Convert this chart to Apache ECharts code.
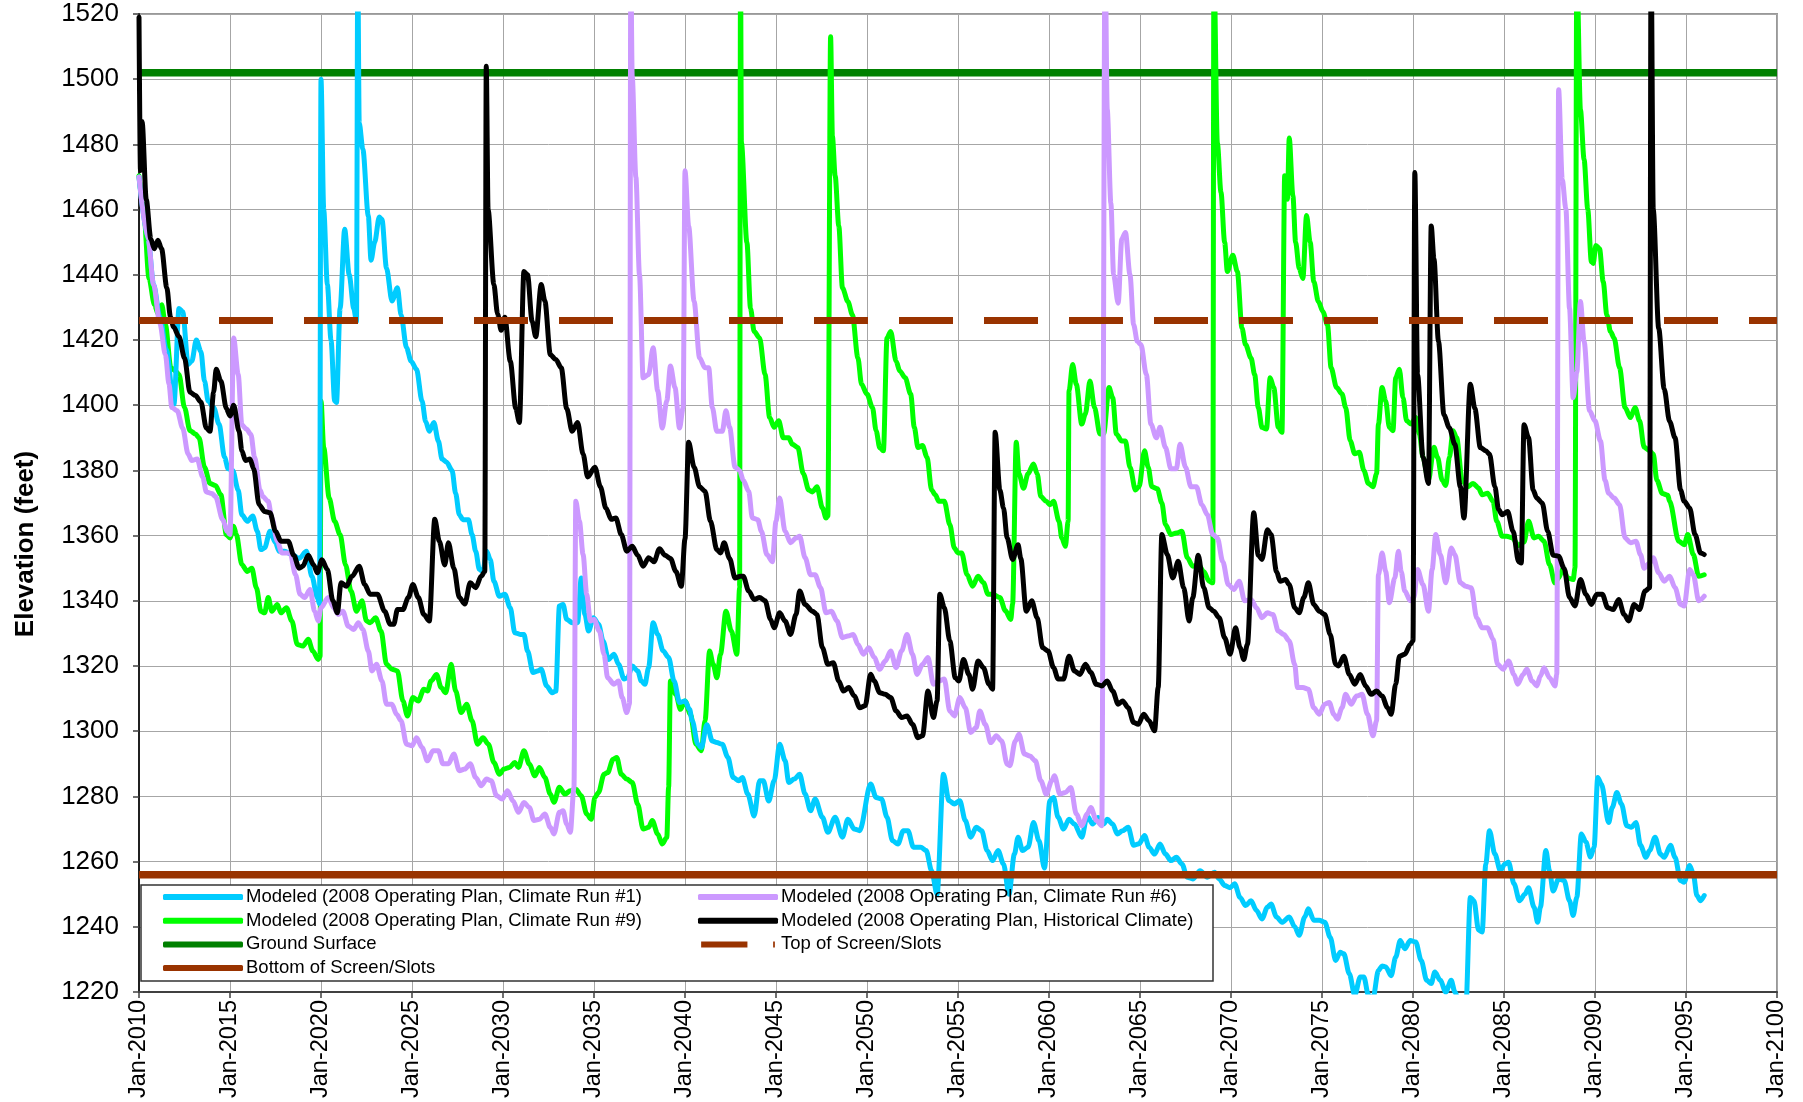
<!DOCTYPE html>
<html>
<head>
<meta charset="utf-8">
<title>Elevation</title>
<script src="https://cdn.jsdelivr.net/npm/echarts@6/dist/echarts.min.js"></script>
<style>
  html, body { margin: 0; padding: 0; background: #fff; }
  #chart { width: 1803px; height: 1102px; }
</style>
</head>
<body>
<div id="chart"></div>
<script>
// values, [year, elevation ft]
const runOne = [[2010.0,1470],[2010.5,1451],[2010.8,1437],[2011.15,1427],[2011.5,1417],[2011.92,1400.3],[2012.2,1429.7],[2012.4,1428.7],[2012.7,1412.5],[2012.9,1413.5],[2013.15,1420],[2013.4,1416.5],[2013.6,1407.4],[2013.8,1401.3],[2014.1,1399.3],[2014.4,1394.2],[2014.7,1384],[2014.9,1380.5],[2015.15,1380],[2015.45,1374],[2015.65,1366.4],[2015.95,1364.4],[2016.25,1366],[2016.5,1361.3],[2016.7,1355.7],[2016.9,1356.2],[2017.2,1361.3],[2017.5,1357.8],[2017.7,1355.2],[2018.0,1355.2],[2018.4,1354.2],[2018.8,1353],[2019.2,1355.2],[2019.5,1347.5],[2019.8,1341],[2019.92,1339],[2020.0,1500],[2020.15,1460],[2020.35,1437],[2020.55,1420],[2020.75,1401.3],[2020.85,1400.8],[2021.05,1429.7],[2021.3,1454],[2021.55,1440],[2021.8,1429.7],[2021.95,1425.7],[2022.02,1535],[2022.1,1486.6],[2022.3,1478.5],[2022.6,1458],[2022.75,1444.5],[2022.95,1450],[2023.2,1457.7],[2023.35,1457],[2023.6,1442],[2023.9,1432],[2024.2,1436],[2024.4,1427.7],[2024.7,1417.6],[2024.95,1413.5],[2025.25,1411],[2025.55,1401.3],[2025.75,1395],[2025.95,1392],[2026.2,1394.7],[2026.45,1389],[2026.65,1383.5],[2026.9,1382.5],[2027.2,1380],[2027.4,1372.9],[2027.6,1366.4],[2027.8,1364.9],[2028.1,1364.9],[2028.3,1360.3],[2028.5,1355.2],[2028.7,1349.6],[2028.9,1349],[2029.1,1355.2],[2029.3,1352.7],[2029.5,1346],[2029.8,1341.4],[2030.1,1342],[2030.4,1337.9],[2030.65,1330.2],[2030.95,1329.7],[2031.15,1329.7],[2031.35,1324.6],[2031.65,1318],[2031.9,1318.5],[2032.1,1319],[2032.4,1313.9],[2032.7,1311.8],[2032.9,1312.3],[2033.1,1338.4],[2033.3,1338.9],[2033.5,1334.3],[2033.8,1333.3],[2034.1,1333.3],[2034.3,1347],[2034.5,1335.8],[2034.7,1330.7],[2034.97,1334.8],[2035.25,1332.8],[2035.5,1327.7],[2035.8,1322],[2036.1,1323.6],[2036.35,1320.5],[2036.65,1316],[2036.85,1316.4],[2037.1,1320],[2037.4,1318.5],[2037.6,1315.4],[2037.8,1314.4],[2038.0,1319.5],[2038.25,1333.3],[2038.5,1329.7],[2038.8,1324.6],[2039.1,1322.6],[2039.4,1315.4],[2039.7,1308.8],[2040.0,1309.3],[2040.25,1306.7],[2040.4,1303.2],[2040.7,1296],[2040.9,1295],[2041.2,1302],[2041.5,1297],[2041.75,1296.5],[2042.05,1296],[2042.35,1292],[2042.65,1285.8],[2042.95,1284.8],[2043.15,1285.8],[2043.45,1280.7],[2043.8,1274],[2044.1,1284.8],[2044.3,1284.8],[2044.6,1278.6],[2044.9,1284.8],[2045.2,1296],[2045.5,1291],[2045.7,1284.3],[2046.0,1285.3],[2046.3,1286.8],[2046.6,1280.7],[2046.9,1275.6],[2047.15,1279.2],[2047.55,1273.6],[2047.85,1269],[2048.25,1273.6],[2048.65,1267.5],[2048.95,1273],[2049.3,1270],[2049.6,1269.5],[2050.2,1283.8],[2050.5,1279.7],[2050.8,1279.2],[2051.1,1273.6],[2051.4,1266.4],[2051.7,1265.4],[2052.0,1269.5],[2052.25,1269.5],[2052.55,1264.4],[2052.95,1264.4],[2053.25,1263.4],[2053.55,1257.2],[2053.85,1250],[2054.2,1286.8],[2054.5,1278.7],[2054.8,1277.7],[2055.1,1278.7],[2055.4,1272.6],[2055.7,1267.5],[2056.0,1270.5],[2056.3,1269.5],[2056.6,1263.4],[2056.9,1260.3],[2057.2,1263.4],[2057.5,1259.3],[2057.8,1250],[2058.1,1262.3],[2058.3,1267.5],[2058.55,1263.4],[2058.85,1264.4],[2059.15,1272],[2059.45,1266.4],[2059.75,1258],[2060.05,1278.7],[2060.25,1279.7],[2060.5,1273.6],[2060.8,1270],[2061.1,1273],[2061.4,1271.5],[2061.8,1267.5],[2062.1,1274],[2062.4,1271.5],[2062.7,1273.5],[2063.0,1271.5],[2063.2,1273],[2063.5,1271.5],[2063.75,1268.5],[2064.05,1269.5],[2064.35,1270.5],[2064.65,1265],[2064.95,1265.5],[2065.25,1268],[2065.5,1264.4],[2065.8,1262.3],[2066.1,1265.4],[2066.4,1262.3],[2066.7,1260.3],[2067.0,1261.3],[2067.3,1259.3],[2067.6,1255.2],[2067.9,1254.7],[2068.3,1257.2],[2068.7,1255.2],[2069.1,1256.7],[2069.35,1254.7],[2069.65,1252.7],[2069.95,1252],[2070.2,1253.2],[2070.5,1249],[2070.8,1246.5],[2071.1,1248],[2071.4,1245],[2071.7,1242.4],[2072.0,1246],[2072.2,1247],[2072.5,1243],[2072.8,1241.4],[2073.2,1243],[2073.5,1240],[2073.75,1237.4],[2074.05,1243],[2074.25,1245.5],[2074.55,1242],[2074.85,1242],[2075.15,1241.4],[2075.45,1236.8],[2075.75,1229.7],[2076.0,1232.2],[2076.2,1231.7],[2076.5,1225.6],[2076.8,1219],[2077.1,1224.6],[2077.3,1224.6],[2077.55,1219],[2077.8,1218],[2078.1,1226.6],[2078.3,1228],[2078.5,1227.7],[2078.8,1225],[2079.05,1230.7],[2079.3,1235.8],[2079.55,1233.3],[2079.85,1235.8],[2080.15,1235.3],[2080.45,1229.7],[2080.75,1223.6],[2081.0,1222.6],[2081.2,1226.1],[2081.5,1223.6],[2081.8,1220],[2082.1,1223.6],[2082.3,1220],[2082.6,1215],[2082.9,1215],[2083.15,1249],[2083.35,1248],[2083.6,1239],[2083.8,1238.4],[2084.0,1259.3],[2084.2,1269.5],[2084.5,1262.3],[2084.8,1257.2],[2085.05,1259.3],[2085.25,1259.8],[2085.55,1253.2],[2085.85,1248],[2086.15,1250],[2086.35,1252],[2086.65,1246],[2086.85,1241.4],[2087.0,1246],[2087.3,1263.4],[2087.5,1257.2],[2087.7,1251],[2088.0,1254.7],[2088.3,1254.2],[2088.6,1248],[2088.8,1243.5],[2089.0,1249],[2089.25,1268.5],[2089.5,1266],[2089.75,1261.4],[2089.95,1264.4],[2090.15,1285.8],[2090.35,1283.8],[2090.75,1272],[2090.95,1276.6],[2091.2,1281.2],[2091.45,1277.7],[2091.75,1271],[2092.0,1270.5],[2092.25,1272],[2092.5,1265],[2092.8,1261.3],[2093.0,1263.4],[2093.3,1267.5],[2093.6,1262.3],[2093.8,1261.3],[2094.15,1265],[2094.4,1261.3],[2094.7,1254.2],[2094.9,1253.7],[2095.2,1258.8],[2095.4,1256.3],[2095.6,1249.6],[2095.8,1248],[2096.0,1249.6]];

const runSix = [[2010.0,1470],[2010.5,1451],[2010.8,1437],[2011.15,1425],[2011.45,1415.5],[2011.65,1406.4],[2011.8,1399.3],[2012.1,1398.3],[2012.4,1393],[2012.7,1385],[2012.9,1383],[2013.2,1383.5],[2013.5,1378],[2013.7,1373.4],[2014.0,1372.9],[2014.2,1372],[2014.6,1364.9],[2014.85,1361.3],[2015.0,1360.3],[2015.2,1420.6],[2015.45,1409.4],[2015.65,1394],[2015.9,1392.7],[2016.15,1391],[2016.35,1384],[2016.65,1374],[2016.8,1372],[2017.1,1370.5],[2017.3,1365.4],[2017.6,1358.3],[2017.85,1354.7],[2018.3,1354.7],[2018.6,1348],[2018.85,1342],[2019.1,1341],[2019.4,1343.5],[2019.65,1336.8],[2019.85,1333.8],[2020.0,1337.9],[2020.4,1341],[2020.7,1337.9],[2020.95,1335.8],[2021.2,1336.8],[2021.5,1332.2],[2021.8,1331.2],[2022.05,1333.3],[2022.3,1331.2],[2022.6,1324.6],[2022.8,1318.5],[2023.05,1320.5],[2023.35,1315.4],[2023.6,1308.3],[2023.9,1308.3],[2024.15,1305.2],[2024.4,1303.2],[2024.7,1296],[2025.0,1295.5],[2025.25,1298],[2025.55,1295],[2025.85,1290.9],[2026.15,1294],[2026.45,1294],[2026.7,1290],[2027.0,1290],[2027.3,1293],[2027.6,1287.9],[2027.9,1288.4],[2028.2,1290],[2028.5,1285.8],[2028.8,1283.3],[2029.1,1285.3],[2029.35,1284.8],[2029.65,1280.2],[2029.95,1279.2],[2030.25,1281.7],[2030.55,1278.6],[2030.85,1275.1],[2031.15,1278.1],[2031.45,1276.6],[2031.7,1272.6],[2032.0,1273],[2032.3,1274.6],[2032.6,1270.5],[2032.8,1268.5],[2033.1,1275.1],[2033.3,1275.6],[2033.5,1271.5],[2033.7,1269],[2033.9,1282.8],[2034.0,1370.5],[2034.2,1364.4],[2034.4,1354.2],[2034.6,1342],[2034.8,1333.8],[2035.0,1334.3],[2035.3,1330.7],[2035.55,1323.6],[2035.75,1316.4],[2036.1,1314.4],[2036.35,1315.4],[2036.55,1310.3],[2036.8,1305.7],[2036.95,1308.3],[2037.02,1535],[2037.1,1500.8],[2037.3,1470],[2037.5,1440],[2037.7,1408.4],[2038.0,1409.4],[2038.25,1417.6],[2038.5,1404.4],[2038.75,1393],[2039.0,1401.3],[2039.2,1412],[2039.45,1405.4],[2039.7,1393],[2039.9,1399.3],[2040.0,1471.9],[2040.2,1455],[2040.5,1431.8],[2040.8,1414.5],[2041.1,1411.5],[2041.3,1411.5],[2041.5,1399.3],[2041.75,1392],[2042.05,1392],[2042.25,1398.3],[2042.45,1393.2],[2042.75,1381],[2043.0,1380],[2043.2,1377],[2043.5,1373.6],[2043.7,1365.4],[2044.0,1364.9],[2044.2,1361.3],[2044.5,1354.2],[2044.8,1352],[2045.0,1364.4],[2045.2,1371.5],[2045.5,1361.3],[2045.8,1357.8],[2046.1,1359.3],[2046.3,1359.8],[2046.6,1353.2],[2046.9,1348],[2047.15,1348],[2047.45,1344],[2047.75,1336.3],[2048.05,1336.8],[2048.35,1333.8],[2048.65,1328.7],[2048.95,1329.2],[2049.25,1329.7],[2049.5,1326.6],[2049.8,1323.6],[2050.1,1325.6],[2050.4,1322.6],[2050.7,1319],[2051.0,1321.5],[2051.3,1324.6],[2051.6,1319.5],[2051.9,1324.6],[2052.2,1329.7],[2052.5,1323.6],[2052.75,1317.4],[2053.05,1320.5],[2053.35,1322.6],[2053.65,1314.4],[2053.95,1315.4],[2054.25,1316],[2054.55,1306.2],[2054.8,1304.7],[2055.1,1310.3],[2055.4,1307.2],[2055.7,1299.6],[2056.0,1301.1],[2056.2,1306.2],[2056.5,1302.1],[2056.8,1296.5],[2057.1,1298.6],[2057.4,1297],[2057.7,1289.9],[2057.85,1289.4],[2058.15,1297],[2058.35,1299.1],[2058.65,1293],[2058.95,1292.4],[2059.25,1290.9],[2059.55,1284.8],[2059.85,1280.7],[2060.15,1284.8],[2060.3,1286.3],[2060.6,1280.7],[2060.9,1281.2],[2061.2,1282.7],[2061.5,1274.6],[2061.8,1271],[2062.1,1274.6],[2062.3,1276.6],[2062.6,1272.6],[2062.9,1271],[2063.08,1540],[2063.2,1490.7],[2063.4,1462],[2063.55,1440],[2063.8,1431.3],[2064.0,1451],[2064.2,1453],[2064.45,1440],[2064.65,1424.7],[2064.85,1419.6],[2065.05,1418.6],[2065.35,1409.4],[2065.6,1394.2],[2065.9,1390],[2066.1,1393.2],[2066.4,1387],[2066.7,1380.5],[2067.0,1380.5],[2067.2,1388],[2067.5,1381],[2067.8,1375],[2068.1,1375],[2068.4,1369.5],[2068.7,1366.4],[2069.0,1360.3],[2069.25,1359.3],[2069.55,1352],[2069.85,1345],[2070.15,1343.5],[2070.45,1346],[2070.75,1340],[2071.1,1340.4],[2071.4,1337.9],[2071.7,1334.8],[2072.0,1336.3],[2072.3,1335.8],[2072.6,1330.7],[2072.9,1329.7],[2073.2,1327.7],[2073.5,1320.5],[2073.65,1313.4],[2073.95,1313.4],[2074.25,1312.9],[2074.55,1307.2],[2074.85,1305.2],[2075.15,1308.3],[2075.4,1308.8],[2075.65,1305.2],[2075.85,1303.7],[2076.1,1307.2],[2076.3,1311.3],[2076.6,1308.3],[2076.9,1310.8],[2077.2,1311.3],[2077.5,1305.2],[2077.8,1298.6],[2078.0,1303.2],[2078.1,1348],[2078.3,1354.7],[2078.5,1349],[2078.7,1339.4],[2079.0,1347],[2079.2,1355.2],[2079.35,1349],[2079.55,1343],[2079.85,1340],[2080.05,1341],[2080.25,1349.6],[2080.55,1345],[2080.85,1336.8],[2081.05,1349.6],[2081.25,1360.3],[2081.5,1354.2],[2081.8,1345.5],[2082.1,1356.2],[2082.3,1354.2],[2082.6,1345.5],[2082.9,1344.5],[2083.2,1344],[2083.5,1334.8],[2083.8,1331.7],[2084.1,1331.7],[2084.4,1328.2],[2084.65,1320.5],[2084.95,1319],[2085.25,1321.5],[2085.55,1317.4],[2085.75,1314.4],[2086.05,1317.4],[2086.25,1319],[2086.55,1315.4],[2086.8,1313.9],[2087.0,1316.9],[2087.2,1319.5],[2087.5,1316.4],[2087.8,1313.9],[2087.9,1317.4],[2088.0,1496.8],[2088.2,1469.3],[2088.4,1460.2],[2088.6,1429.7],[2088.8,1402.3],[2089.0,1410],[2089.2,1431.8],[2089.4,1419.6],[2089.7,1398.3],[2090.0,1395.2],[2090.3,1389],[2090.55,1377],[2090.75,1373],[2091.05,1371.5],[2091.35,1369.5],[2091.65,1359.3],[2091.95,1357.8],[2092.25,1358.3],[2092.5,1354.2],[2092.7,1350],[2093.0,1351.6],[2093.2,1353.2],[2093.5,1348.6],[2093.8,1346],[2094.1,1347.5],[2094.4,1344],[2094.7,1338.9],[2094.9,1338.4],[2095.2,1349.6],[2095.4,1348],[2095.7,1340],[2096.0,1341.4]];

const runNine = [[2010.0,1470.4],[2010.25,1460.2],[2010.55,1438.9],[2010.85,1430.8],[2011.05,1428],[2011.25,1430.8],[2011.45,1424.7],[2011.75,1411.5],[2012.0,1410.5],[2012.2,1409.4],[2012.5,1399.3],[2012.8,1392.2],[2013.1,1391.2],[2013.3,1390],[2013.6,1381],[2013.9,1376],[2014.2,1375.4],[2014.5,1372.5],[2014.8,1360.3],[2015.0,1359.3],[2015.2,1362.9],[2015.35,1360.3],[2015.65,1351.1],[2015.95,1349],[2016.2,1350],[2016.45,1344],[2016.7,1336.8],[2016.9,1336.3],[2017.1,1341],[2017.3,1336.8],[2017.6,1338.9],[2017.8,1336.3],[2018.1,1337.9],[2018.4,1333.8],[2018.7,1326.6],[2019.0,1326.1],[2019.3,1328.2],[2019.55,1324.6],[2019.85,1322],[2019.95,1323],[2020.0,1401.3],[2020.15,1387],[2020.45,1371.5],[2020.75,1364.4],[2021.05,1360.3],[2021.35,1351],[2021.65,1343],[2021.95,1336.8],[2022.25,1340],[2022.5,1333.8],[2022.7,1333.3],[2023.0,1334.8],[2023.3,1330.7],[2023.6,1320.5],[2023.9,1319],[2024.2,1318.5],[2024.5,1309.3],[2024.75,1304.7],[2025.05,1310.3],[2025.35,1309.3],[2025.65,1312.9],[2025.85,1312.3],[2026.05,1315.4],[2026.35,1317.4],[2026.6,1313.4],[2026.85,1311.8],[2027.15,1320.5],[2027.4,1312.3],[2027.7,1305.7],[2028.0,1308.3],[2028.3,1303.2],[2028.6,1296],[2028.9,1298],[2029.2,1296],[2029.5,1290.4],[2029.8,1286.8],[2030.05,1288.4],[2030.35,1288.9],[2030.65,1290.4],[2030.85,1288.9],[2031.15,1294],[2031.45,1289.9],[2031.75,1286.3],[2032.0,1288.9],[2032.3,1285.8],[2032.6,1280.7],[2032.8,1278.2],[2033.1,1282.8],[2033.4,1280.7],[2033.7,1281.7],[2034.0,1282.2],[2034.3,1280.2],[2034.6,1274.6],[2034.85,1273],[2035.05,1279.7],[2035.25,1281.2],[2035.55,1286.8],[2035.75,1287.3],[2036.05,1291.4],[2036.25,1291.9],[2036.5,1286.8],[2036.8,1285.3],[2037.1,1284.3],[2037.4,1277.6],[2037.7,1270],[2038.0,1270.5],[2038.2,1272.6],[2038.5,1268.5],[2038.75,1265.4],[2039.0,1267.4],[2039.1,1282.8],[2039.2,1315.4],[2039.5,1311.3],[2039.75,1306.7],[2040.0,1309.3],[2040.3,1305.2],[2040.6,1296],[2040.9,1294],[2041.1,1303.2],[2041.35,1324.6],[2041.55,1320.5],[2041.75,1316.4],[2041.95,1323.6],[2042.25,1336.8],[2042.55,1330.7],[2042.85,1323.6],[2043.0,1344],[2043.05,1535],[2043.1,1480.5],[2043.4,1450],[2043.6,1429.7],[2043.8,1422.6],[2044.1,1420.6],[2044.4,1409.4],[2044.65,1396.2],[2044.9,1393.2],[2045.15,1395.2],[2045.4,1390],[2045.7,1390],[2045.9,1388],[2046.2,1387],[2046.5,1379],[2046.8,1374],[2047.0,1373.4],[2047.25,1375],[2047.55,1368.5],[2047.75,1365.4],[2047.85,1366],[2048.0,1513],[2048.1,1482.5],[2048.25,1470.4],[2048.45,1455],[2048.65,1436],[2048.95,1431.8],[2049.2,1427.7],[2049.5,1414.5],[2049.7,1406.4],[2050.0,1403.4],[2050.3,1399.3],[2050.5,1392.2],[2050.7,1387],[2050.9,1386],[2051.1,1420.6],[2051.3,1422.6],[2051.6,1413.5],[2051.8,1410.5],[2052.1,1408.4],[2052.4,1403.4],[2052.6,1393.2],[2052.8,1387],[2053.05,1387.6],[2053.3,1384],[2053.55,1374],[2053.75,1372.5],[2053.95,1370.5],[2054.25,1370.5],[2054.55,1363.4],[2054.8,1356.2],[2055.0,1354.7],[2055.2,1354.7],[2055.5,1348],[2055.8,1344.5],[2056.1,1347.5],[2056.4,1345.5],[2056.65,1342],[2056.9,1342],[2057.3,1341],[2057.6,1337],[2057.9,1334.3],[2058.0,1339],[2058.2,1388.6],[2058.35,1379],[2058.6,1374.5],[2058.85,1379],[2059.15,1382],[2059.35,1379],[2059.55,1372],[2059.85,1370.5],[2060.05,1369.5],[2060.25,1370.5],[2060.55,1364.4],[2060.7,1359.3],[2060.9,1356.7],[2061.05,1364.4],[2061.1,1404.4],[2061.3,1412.5],[2061.5,1406.4],[2061.8,1394.2],[2062.0,1397.3],[2062.25,1407.4],[2062.5,1399.3],[2062.8,1391.2],[2063.0,1391.2],[2063.3,1405.4],[2063.5,1402.3],[2063.7,1391.2],[2064.0,1389],[2064.2,1389],[2064.45,1381],[2064.75,1374],[2064.95,1375],[2065.25,1386],[2065.45,1381],[2065.65,1375],[2065.95,1374.4],[2066.2,1370],[2066.4,1363.4],[2066.7,1360.3],[2067.0,1360.8],[2067.3,1361.3],[2067.6,1353.2],[2067.9,1350.6],[2068.2,1351.1],[2068.5,1349],[2068.8,1346],[2069.0,1345.5],[2069.06,1535],[2069.25,1480.5],[2069.45,1465.3],[2069.65,1450],[2069.8,1441],[2070.1,1446],[2070.35,1441],[2070.6,1423.7],[2070.8,1418.6],[2071.1,1414.5],[2071.3,1409.4],[2071.5,1399.3],[2071.7,1393.2],[2071.95,1392.7],[2072.15,1408.4],[2072.35,1405.4],[2072.6,1393.2],[2072.8,1391.7],[2072.95,1470.4],[2073.1,1463.2],[2073.2,1482],[2073.4,1464.3],[2073.55,1450],[2073.75,1441.9],[2073.95,1438.9],[2074.15,1458.2],[2074.35,1450],[2074.55,1437.9],[2074.8,1431.8],[2075.05,1428.7],[2075.3,1424.7],[2075.5,1411.5],[2075.8,1405.4],[2076.1,1403.4],[2076.3,1399.3],[2076.55,1389.1],[2076.8,1385.1],[2077.05,1385.6],[2077.3,1380],[2077.55,1376],[2077.8,1375],[2078.0,1379],[2078.1,1394.2],[2078.3,1405.4],[2078.5,1401.3],[2078.7,1393.2],[2078.9,1392.2],[2079.05,1408.4],[2079.25,1411],[2079.45,1402.3],[2079.65,1395.2],[2079.9,1394.2],[2080.15,1396.2],[2080.35,1391.2],[2080.55,1384],[2080.85,1377],[2081.15,1387.1],[2081.35,1384],[2081.6,1377],[2081.8,1375.4],[2082.0,1384],[2082.2,1392.2],[2082.4,1390],[2082.7,1377],[2083.0,1375],[2083.3,1376],[2083.6,1374.6],[2083.8,1372.5],[2084.1,1373],[2084.4,1370.5],[2084.6,1364.4],[2084.9,1359.8],[2085.15,1359.8],[2085.45,1359.3],[2085.8,1357],[2086.1,1358],[2086.35,1364.4],[2086.65,1359.3],[2086.9,1359.8],[2087.2,1358.3],[2087.5,1351.1],[2087.8,1345.5],[2088.0,1347],[2088.25,1350],[2088.5,1347],[2088.8,1346.5],[2088.9,1350],[2089.0,1535],[2089.2,1490.7],[2089.4,1475.4],[2089.6,1460.2],[2089.8,1444],[2089.9,1443.5],[2090.05,1449],[2090.25,1448],[2090.45,1437.9],[2090.65,1427.7],[2090.85,1422.6],[2091.05,1420.6],[2091.35,1411.5],[2091.65,1399.3],[2091.95,1396.2],[2092.2,1399.3],[2092.45,1395.2],[2092.7,1387.1],[2093.0,1386],[2093.2,1385],[2093.4,1377],[2093.7,1372.9],[2094.0,1372.4],[2094.1,1370.5],[2094.6,1358.3],[2094.9,1357.2],[2095.1,1360.3],[2095.4,1354.2],[2095.7,1347.5],[2096.0,1348]];

const historical = [[2010.0,1519],[2010.08,1472],[2010.17,1487],[2010.4,1463],[2010.65,1451],[2010.84,1448],[2011.04,1450.6],[2011.24,1448],[2011.53,1436],[2011.73,1427],[2011.9,1424],[2012.2,1421],[2012.5,1414.5],[2012.8,1404],[2013.1,1403],[2013.4,1401],[2013.7,1393],[2013.9,1392],[2014.1,1404],[2014.24,1411],[2014.5,1407.4],[2014.8,1399],[2015.0,1396.7],[2015.2,1400],[2015.5,1392],[2015.65,1386],[2015.85,1383],[2016.1,1383.5],[2016.3,1380.5],[2016.6,1369.5],[2016.9,1367.4],[2017.2,1367],[2017.5,1361.3],[2017.8,1358.3],[2018.2,1358.3],[2018.5,1354],[2018.8,1350],[2019.0,1350.6],[2019.3,1354],[2019.6,1351],[2019.8,1348.6],[2020.05,1352.6],[2020.35,1349.6],[2020.65,1340],[2020.9,1336.3],[2021.1,1345.5],[2021.4,1344.5],[2021.7,1347.5],[2022.1,1350.6],[2022.4,1345],[2022.7,1342],[2023.1,1342],[2023.5,1336.8],[2023.8,1332.8],[2024.0,1332.8],[2024.2,1337.3],[2024.5,1337.3],[2024.8,1341],[2025.05,1345],[2025.35,1341],[2025.65,1335.8],[2025.95,1333.8],[2026.25,1365],[2026.5,1358.3],[2026.8,1351],[2027.0,1357.8],[2027.3,1350],[2027.6,1341],[2027.9,1339],[2028.2,1345.5],[2028.5,1344],[2028.8,1347.5],[2029.0,1349],[2029.08,1504],[2029.18,1460],[2029.5,1437],[2029.7,1428],[2029.9,1423],[2030.1,1427],[2030.4,1413.5],[2030.7,1399],[2030.9,1394.7],[2031.15,1441],[2031.35,1440],[2031.6,1425.7],[2031.8,1421],[2032.1,1437],[2032.3,1432],[2032.6,1415.5],[2032.9,1414],[2033.2,1411.5],[2033.5,1399],[2033.8,1392],[2034.1,1394.7],[2034.4,1385],[2034.65,1378],[2035.05,1381],[2035.35,1375],[2035.65,1368.5],[2035.95,1365],[2036.2,1365.4],[2036.5,1360.3],[2036.8,1355.2],[2037.1,1356.7],[2037.4,1354],[2037.7,1350.6],[2038.0,1353.2],[2038.3,1352],[2038.6,1356],[2038.9,1354],[2039.2,1353],[2039.5,1349],[2039.8,1344.5],[2040.0,1359],[2040.2,1388.6],[2040.5,1381],[2040.8,1375],[2041.1,1373.6],[2041.4,1364.4],[2041.75,1355.7],[2041.95,1354.7],[2042.15,1357.8],[2042.45,1353],[2042.75,1347],[2043.05,1347.5],[2043.2,1347.5],[2043.5,1343],[2043.8,1340.4],[2044.1,1341],[2044.4,1340],[2044.7,1334.3],[2044.9,1331.7],[2045.2,1336.3],[2045.5,1333.8],[2045.8,1329.7],[2046.1,1335.8],[2046.3,1343],[2046.6,1338.9],[2047.0,1336.8],[2047.25,1335.8],[2047.55,1325.6],[2047.85,1320.5],[2048.15,1321],[2048.45,1315.4],[2048.7,1312.3],[2049.0,1313.4],[2049.3,1310.8],[2049.6,1307.2],[2049.9,1307.8],[2050.2,1317.5],[2050.4,1315.4],[2050.7,1311.8],[2051.0,1311.3],[2051.3,1310.3],[2051.6,1306.2],[2051.9,1304.2],[2052.2,1304.7],[2052.5,1302.1],[2052.8,1298],[2053.05,1298.6],[2053.35,1312.3],[2053.65,1304.2],[2053.85,1309.3],[2054.0,1342],[2054.25,1337.9],[2054.55,1327.7],[2054.85,1316.4],[2055.05,1315.4],[2055.3,1322],[2055.6,1317.4],[2055.8,1312.9],[2056.1,1321.5],[2056.4,1319.5],[2056.7,1314.4],[2056.9,1312.9],[2057.04,1391.7],[2057.3,1374],[2057.5,1368.5],[2057.7,1359.3],[2058.0,1352.7],[2058.3,1357.2],[2058.45,1353],[2058.75,1336.8],[2059.05,1340],[2059.35,1334.8],[2059.65,1325.6],[2059.95,1324.6],[2060.25,1319.5],[2060.5,1316],[2060.8,1316],[2061.1,1323],[2061.4,1318.5],[2061.7,1317.4],[2062.0,1320.5],[2062.3,1318],[2062.6,1314.4],[2062.9,1313.9],[2063.2,1315.4],[2063.5,1312.3],[2063.8,1308.3],[2064.05,1309.3],[2064.35,1307.2],[2064.65,1302.7],[2064.9,1302.1],[2065.2,1305.2],[2065.5,1303.2],[2065.8,1300.1],[2066.0,1313.4],[2066.2,1360.3],[2066.5,1354.2],[2066.8,1347],[2067.1,1352.1],[2067.4,1344],[2067.7,1333.8],[2067.9,1341],[2068.2,1354],[2068.5,1344],[2068.8,1337.9],[2069.05,1336.8],[2069.35,1334.8],[2069.65,1328.7],[2069.95,1323.6],[2070.25,1331.7],[2070.5,1325.6],[2070.7,1322],[2070.9,1326.6],[2071.25,1367],[2071.5,1354],[2071.7,1352.7],[2072.0,1361.8],[2072.2,1360.3],[2072.5,1349],[2072.7,1346],[2073.0,1346.5],[2073.2,1345],[2073.5,1337.9],[2073.75,1336.3],[2074.0,1341],[2074.25,1345.5],[2074.55,1338.9],[2074.85,1336.8],[2075.15,1335.8],[2075.45,1329.7],[2075.75,1320.5],[2075.9,1320],[2076.2,1323],[2076.5,1317.4],[2076.8,1314.4],[2077.1,1317.4],[2077.4,1313.9],[2077.7,1311.3],[2078.0,1312.3],[2078.3,1310.8],[2078.6,1307.2],[2078.8,1305.2],[2079.05,1314.4],[2079.25,1323],[2079.55,1323.6],[2079.85,1326.6],[2080.0,1327.7],[2080.1,1471.4],[2080.25,1409.4],[2080.55,1384],[2080.85,1376],[2081.0,1455],[2081.15,1445],[2081.4,1419.6],[2081.7,1397],[2082.0,1393],[2082.3,1388],[2082.6,1375],[2082.8,1365.4],[2083.15,1406.4],[2083.4,1399],[2083.7,1387],[2084.0,1386],[2084.2,1385],[2084.5,1375],[2084.7,1368],[2084.9,1366.4],[2085.2,1367.4],[2085.5,1361.3],[2085.8,1352],[2085.95,1351.6],[2086.1,1394],[2086.35,1390],[2086.6,1374],[2086.8,1371.5],[2087.1,1370],[2087.4,1361.3],[2087.7,1354],[2088.0,1353.7],[2088.3,1350],[2088.6,1341],[2088.9,1338.4],[2089.2,1346.5],[2089.5,1342],[2089.8,1338.9],[2090.1,1342],[2090.4,1342],[2090.7,1337.9],[2091.0,1337.3],[2091.3,1340.4],[2091.6,1335.8],[2091.85,1333.8],[2092.15,1338.9],[2092.45,1337.3],[2092.75,1343],[2093.0,1344],[2093.08,1540],[2093.2,1460],[2093.5,1423.6],[2093.8,1405],[2094.1,1395],[2094.4,1390],[2094.7,1374],[2094.9,1370.5],[2095.2,1368.5],[2095.5,1360.3],[2095.8,1354.7],[2096.0,1354.2]];

// reference elevations (ft) and the span they are drawn over
const refYears = [2010, 2100];
const groundSurface = 1502;
const topOfScreen = 1426;
const bottomOfScreen = 1256;

const yTicks = { min: 1220, max: 1520, step: 20 };
const xTicks = { min: 2010, max: 2100, step: 5 };

const FONT = 'Liberation Sans, Arial, sans-serif';

const NAMES = {
  run1: 'Modeled (2008 Operating Plan, Climate Run #1)',
  run6: 'Modeled (2008 Operating Plan, Climate Run #6)',
  run9: 'Modeled (2008 Operating Plan, Climate Run #9)',
  hist: 'Modeled (2008 Operating Plan, Historical Climate)',
  ground: 'Ground Surface',
  top: 'Top of Screen/Slots',
  bottom: 'Bottom of Screen/Slots'
};

// flat line at one elevation across the whole axis
const flat = (v) => refYears.map((yr) => [yr, v]);

const modeled = (name, data, color) => ({
  name: name,
  type: 'line',
  data: data,
  showSymbol: false,
  symbol: 'none',
  smooth: 0.3,
  smoothMonotone: 'x',
  clip: true,
  lineStyle: { color: color, width: 5, cap: 'round', join: 'round' },
  itemStyle: { color: color }
});

const reference = (name, v, color, dashed) => ({
  name: name,
  type: 'line',
  data: flat(v),
  showSymbol: false,
  symbol: 'none',
  lineStyle: dashed
    ? { color: color, width: 7, type: [54, 31], dashOffset: 5 }
    : { color: color, width: 7.5 },
  itemStyle: { color: color }
});

const legendBase = {
  orient: 'vertical',
  top: 887,
  itemWidth: 80,
  itemHeight: 6,
  itemGap: 3.7,
  padding: 0,
  icon: 'roundRect',
  selectedMode: false,
  z: 10,
  textStyle: { fontFamily: FONT, fontSize: 18.5, color: '#000', lineHeight: 20, padding: [0, 0, 0, -2] }
};

const option = {
  animation: false,
  backgroundColor: '#fff',
  grid: {
    left: 139, right: 26, top: 14, bottom: 110,
    show: true, borderColor: '#999', borderWidth: 2
  },
  xAxis: {
    type: 'value',
    min: xTicks.min,
    max: xTicks.max,
    interval: xTicks.step,
    axisLine: { lineStyle: { color: '#404040', width: 2 } },
    axisTick: { show: true, length: 6, lineStyle: { color: '#404040', width: 1.5 } },
    splitLine: { show: true, lineStyle: { color: '#a6a6a6', width: 1 } },
    axisLabel: {
      rotate: 90,
      margin: 8,
      color: '#000',
      fontFamily: FONT,
      fontSize: 23.5,
      formatter: (v) => 'Jan-' + v
    }
  },
  yAxis: {
    type: 'value',
    min: yTicks.min,
    max: yTicks.max,
    interval: yTicks.step,
    axisLine: { show: true, lineStyle: { color: '#202020', width: 2 } },
    axisTick: { show: true, length: 6, lineStyle: { color: '#404040', width: 1.5 } },
    splitLine: { show: true, lineStyle: { color: '#a6a6a6', width: 1 } },
    axisLabel: {
      margin: 20, color: '#000', fontFamily: FONT, fontSize: 26,
      formatter: (v) => String(v)
    }
  },
  legend: [
    Object.assign({}, legendBase, {
      left: 163,
      data: [NAMES.run1, NAMES.run9, NAMES.ground, NAMES.bottom]
    }),
    Object.assign({}, legendBase, {
      left: 698,
      data: [
        NAMES.run6,
        NAMES.hist,
        // dash plus the start of the next dash, as in the original key
        { name: NAMES.top, icon: 'path://M0,0H54V7H0Z M84,0H86V7H84Z' }
      ]
    })
  ],
  graphic: [
    {
      // legend frame, hides lines behind it like the original
      type: 'rect',
      z: 3,
      shape: { x: 141, y: 885, width: 1072, height: 96 },
      style: { fill: '#fff', stroke: '#333', lineWidth: 1.5 }
    },
    {
      type: 'text',
      x: 26,
      y: 544,
      rotation: Math.PI / 2,
      style: {
        text: 'Elevation (feet)',
        font: 'bold 26px ' + FONT,
        fill: '#000',
        textAlign: 'center',
        textVerticalAlign: 'middle'
      }
    }
  ],
  series: [
    reference(NAMES.ground, groundSurface, '#008000', false),
    modeled(NAMES.run9, runNine, '#00ff00'),
    modeled(NAMES.run1, runOne, '#00ccff'),
    modeled(NAMES.run6, runSix, '#cc99ff'),
    modeled(NAMES.hist, historical, '#000000'),
    reference(NAMES.top, topOfScreen, '#993300', true),
    reference(NAMES.bottom, bottomOfScreen, '#993300', false)
  ]
};

const myChart = echarts.init(document.getElementById('chart'), null, { renderer: 'canvas' });
myChart.setOption(option);
</script>
</body>
</html>
